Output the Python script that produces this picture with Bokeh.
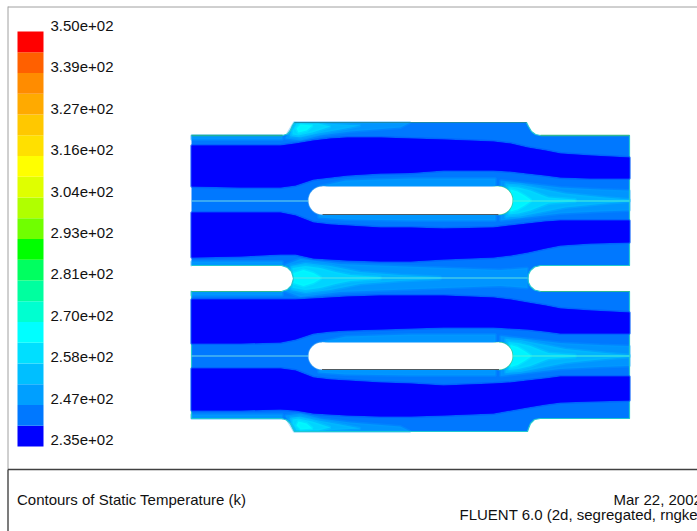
from bokeh.plotting import figure
from bokeh.embed import file_html
from bokeh.resources import INLINE
from bokeh.core.properties import value

# ---- colour scale -------------------------------------------------
t_min, t_max = 235.0, 350.0
band_colors = ["#0000ff", "#0078ff", "#009fff", "#00bfff", "#00dfff", "#00ffff", "#00ffd0",
               "#00ff9f", "#00ff60", "#00ff00", "#70ff00", "#b0ff00", "#dfff00", "#ffff00",
               "#ffe000", "#ffc800", "#ffaa00", "#ff8c00", "#ff6000", "#ff0000"]
tick_labels = ["2.35e+02", "2.47e+02", "2.58e+02", "2.70e+02", "2.81e+02", "2.93e+02",
               "3.04e+02", "3.16e+02", "3.27e+02", "3.39e+02", "3.50e+02"]

# ---- geometry (pixel-like model coordinates) ----------------------
outline_x = [191, 282, 287, 290, 292, 294, 526, 528, 531, 535, 540, 629, 629, 540, 534, 530, 528, 527.5, 528, 530, 534, 540, 629,
             629, 540, 534, 530, 528, 527, 294, 292, 290, 286, 281, 191, 191, 281, 287, 291, 293, 291, 287, 281, 191]
outline_y = [135, 135, 133.5, 130, 125, 122, 122, 126, 131, 134, 135, 135, 265, 265, 266.5, 270, 274, 278, 282, 286, 289.5, 291, 291,
             418, 418, 419, 423, 428, 431, 431, 427, 423, 419.5, 418, 418, 291, 291, 289, 285, 278, 271, 267, 265, 265]
slot_left, slot_right = 308, 512
slot_tops = [186, 342]
slot_bottoms = [214, 369]
wake_centres = [200, 355.5]
mid_centre = 277.5

stations = [191, 240, 280, 295, 313, 330, 347, 380, 410, 443, 493, 510, 527, 545, 560, 590, 629]
a_top = [145, 145, 145, 143, 140, 138, 137, 137, 138, 139, 141, 143, 147, 150, 153, 155, 157]
a_bot = [186, 187, 187, 185, 179, 177, 175, 173, 172.5, 170, 170, 171, 173, 175, 177, 178, 178]
b_top = [212, 212, 212, 215, 222, 224, 225, 227, 227, 228, 227, 225, 223, 221, 220, 220, 220]
b_bot = [257, 256, 254, 254, 258, 259, 260, 261, 261, 259, 257, 255, 252, 248, 245, 243, 242]
c_top = [299, 299, 299, 299, 298, 297, 296, 295, 295, 295, 297, 299, 302, 305, 308, 310, 312]
c_bot = [343, 343, 342, 339, 333, 331, 330, 329, 328, 327, 327, 328, 329, 331, 333, 333, 333]
d_top = [368, 368, 368, 370, 377, 379, 380, 382, 383, 385, 383, 382, 380, 378, 376, 376, 376]
d_bot = [410, 410, 409, 410, 413, 414, 415, 416, 416, 415, 413, 410, 407, 404, 402, 401, 400]

# warm lenses: (band index, station x, half height)
wake_lenses = [
    (2, [500, 527, 560, 600, 629], [20, 17, 13, 11, 10]),
    (3, [505, 520, 535, 550, 565, 585, 605, 629], [17, 16, 13, 10, 7, 5, 3, 1]),
    (4, [508, 518, 530, 540, 548, 575], [14, 13, 10, 6, 3, 1]),
    (5, [510, 517, 524, 530], [11, 9, 5, 1]),
]
mid_lenses = [
    (2, [284, 300, 340, 420, 500, 527], [13, 19, 14, 11, 8, 10]),
    (3, [290, 305, 330, 360, 400, 440], [12, 15, 12, 6, 3, 1]),
    (4, [292, 305, 320, 335, 350, 380], [10, 12, 10, 6, 3, 1]),
    (5, [293, 303, 313, 320], [5, 8, 5, 1]),
]

# warmer wall zones: (band index, xs, ys)
zones = [
    (2, [285, 294, 345, 410, 400, 350, 320, 300, 285], [137, 122, 122, 122, 127, 131, 135, 140, 138]),
    (3, [289, 294, 325, 360, 340, 318, 300, 290], [134, 123, 123, 125, 129, 133, 137, 136]),
    (4, [292, 296, 318, 330, 312, 298, 292], [130, 123, 123, 126, 132, 135, 134]),
    (5, [296, 300, 312, 306, 298], [128, 124, 125, 130, 132]),
    (2, [285, 294, 345, 410, 400, 350, 320, 300, 285], [416, 431, 431, 431, 426, 422, 418, 413, 415]),
    (3, [289, 294, 325, 360, 340, 318, 300, 290], [419, 430, 430, 428, 424, 420, 416, 417]),
    (4, [292, 296, 318, 330, 312, 298, 292], [423, 430, 430, 427, 421, 418, 419]),
    (5, [296, 300, 312, 306, 298], [425, 429, 428, 423, 421]),
    (2, [318, 345, 410, 495, 495, 410, 345, 318], [186, 180, 178, 178, 186, 186, 186, 186]),
    (2, [318, 345, 410, 495, 495, 410, 345, 318], [214, 214, 214, 214, 220, 220, 219, 217]),
    (2, [318, 345, 410, 495, 495, 410, 345, 318], [342, 336, 334, 334, 342, 342, 342, 342]),
    (2, [318, 345, 410, 495, 495, 410, 345, 318], [369, 369, 369, 369, 375, 375, 374, 372]),
    (2, [191, 282, 282, 191], [135, 135, 139, 139]),
    (2, [191, 282, 282, 191], [261, 261, 265, 265]),
    (2, [191, 282, 282, 191], [291, 291, 295, 295]),
    (2, [191, 282, 282, 191], [414, 414, 418, 418]),
]

notch_left_x = [191, 281, 287, 291, 293, 291, 287, 281, 191]
notch_left_y = [265, 265, 267, 271, 278, 285, 289, 291, 291]

title_left = "Contours of Static Temperature (k)"
title_date = "Mar 22, 2002"
title_right = "FLUENT 6.0 (2d, segregated, rngke)"

# ---- figure -------------------------------------------------------
W, H = 697, 531
p = figure(width=W, height=H, x_range=(0, W), y_range=(H, 0), output_backend="svg",
           toolbar_location=None, min_border=0)
p.axis.visible = False
p.grid.visible = False
p.outline_line_color = None
p.background_fill_color = "white"
p.border_fill_color = "white"

FONT = value("Liberation Sans")

# frame
p.line([7.5, 7.5], [6, 469], line_color="#a0a0a0", line_width=1)
p.line([7.5, W], [6.5, 6.5], line_color="#a0a0a0", line_width=1)
p.line([7.5, 7.5], [469, H], line_color="#505050", line_width=1.5)
p.line([7.5, W], [469, 469], line_color="#404040", line_width=1.5)

# colour bar
bar_top, bar_bottom = 31.0, 446.0
n = len(band_colors)
scale = (bar_bottom - bar_top) / (t_max - t_min)
step = (t_max - t_min) / n
lo = [t_min + i * step for i in range(n)]
p.quad(left=17, right=43,
       bottom=[bar_bottom - (t - t_min) * scale for t in lo],
       top=[bar_bottom - (t + step - t_min) * scale for t in lo],
       fill_color=band_colors, line_color=None)
label_bottom, label_top = 439.5, 25.5
ys = [label_bottom - i * (label_bottom - label_top) / (len(tick_labels) - 1) for i in range(len(tick_labels))]
p.text(x=[50] * len(ys), y=ys, text=tick_labels, text_font=FONT, text_font_size="15px",
       text_baseline="middle", text_align="left", text_color="#111111")

# domain
p.patch(outline_x, outline_y, fill_color=band_colors[1], line_color=None)


def soft_patch(idx, xs, ys_):
    c = band_colors[idx]
    p.patch(xs, ys_, fill_color=c, fill_alpha=0.75, line_color=c, line_alpha=0.3, line_width=3)


for idx, xs, ys_ in zones:
    soft_patch(idx, xs, ys_)
for yc in wake_centres:
    for idx, xs, hs in wake_lenses:
        soft_patch(idx, xs + xs[::-1], [yc - h for h in hs] + [yc + h for h in hs[::-1]])
for idx, xs, hs in mid_lenses:
    soft_patch(idx, xs + xs[::-1], [mid_centre - h for h in hs] + [mid_centre + h for h in hs[::-1]])

# mask and wall strokes
p.patch(notch_left_x, notch_left_y, fill_color="white", line_color=None)
p.line(outline_x, outline_y, line_color="#20c8d0", line_width=1.2)
p.line([294, 526], [122, 122], line_color="#1c88a8", line_width=1.2)
p.line([191, 282], [135, 135], line_color="#20b098", line_width=1.4)
p.line([540, 629], [135, 135], line_color="#30b890", line_width=1.4)
p.line([191, 281], [291, 291], line_color="#30b890", line_width=1.2)
p.line([540, 629], [291, 291], line_color="#30b890", line_width=1.2)

# cold cores
for top, bot in [(a_top, a_bot), (b_top, b_bot), (c_top, c_bot), (d_top, d_bot)]:
    xs = stations + stations[::-1]
    ys_ = top + bot[::-1]
    p.patch(xs, ys_, fill_color=band_colors[0], line_color="#0050ff", line_alpha=0.5, line_width=3)
    p.patch(xs, ys_, fill_color=band_colors[0], line_color=None)

# slots
for t, b in zip(slot_tops, slot_bottoms):
    r = (b - t) / 2
    p.circle(x=[slot_right - r], y=[t + r], radius=r + 0.8, fill_color="#30c8a0", line_color=None)
    p.circle(x=[slot_left + r], y=[t + r], radius=r + 0.8, fill_color="#40a0f0", line_color=None)
    p.quad(left=slot_left + r, right=slot_right - r, top=t, bottom=b, fill_color="white", line_color=None)
    p.circle(x=[slot_left + r, slot_right - r], y=[t + r, t + r], radius=r, fill_color="white", line_color=None)
    p.line([slot_left + r, slot_right - r], [b, b], line_color="#505a60", line_width=1.2)

# centre lines
p.line([191, 308], [200.5, 200.5], line_color="#70d8e8", line_width=1)
p.line([512, 629], [200.5, 200.5], line_color="#50f0d8", line_width=1)
p.line([191, 308], [355.5, 355.5], line_color="#70d8e8", line_width=1)
p.line([512, 629], [355.5, 355.5], line_color="#50f0d8", line_width=1)
p.line([293, 527], [277.5, 277.5], line_color="#60e0e0", line_width=1)

# bottom titles
p.text(x=[16.5], y=[498.5], text=[title_left], text_font=FONT, text_font_size="15px",
       text_baseline="middle", text_color="#111111")
p.text(x=[613], y=[498.5], text=[title_date], text_font=FONT, text_font_size="15px",
       text_baseline="middle", text_color="#111111")
p.text(x=[459], y=[513.5], text=[title_right], text_font=FONT, text_font_size="15px",
       text_baseline="middle", text_color="#111111")

open("out.html", "w").write(file_html(p, INLINE))
